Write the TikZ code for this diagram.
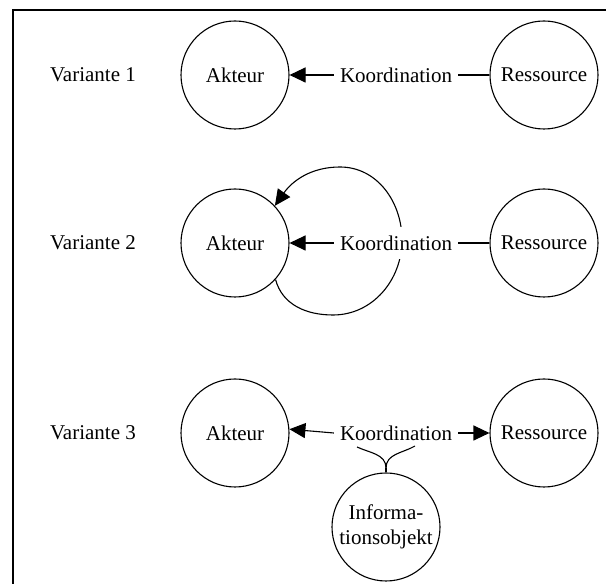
\documentclass[tikz,border=0pt]{standalone}
\usepackage{fontspec}
\setmainfont{Liberation Serif}
\usetikzlibrary{arrows.meta}
\begin{document}
\begin{tikzpicture}[x=1pt,y=1pt,
  every node/.style={font=\fontsize{21}{25}\selectfont},
  ball/.style={circle,draw,line width=1.1pt,minimum size=108pt,inner sep=0pt,align=center},
  label text/.style={inner sep=0pt},
  link/.style={line width=1.1pt},
  arr/.style={link,-{Triangle[length=16pt,width=15pt]}}]
\useasboundingbox (0,0) rectangle (606,584);
% frame
\draw[line width=2pt] (13,-5) -- (13,574) -- (611,574);

% Variante 1
\node[label text] (v1) at (93,509) {Variante 1};
\node[ball] (a1) at (235,509) {Akteur};
\node[ball] (r1) at (544,509) {Ressource};
\node[label text,inner xsep=6pt] (k1) at (396,509) {Koordination};
\draw[arr] (k1) -- (a1);
\draw[link] (r1) -- (k1);

% Variante 2: the loop runs behind the label
\node[label text] (v2) at (93,341) {Variante 2};
\node[ball] (a2) at (235,341) {Akteur};
\node[ball] (r2) at (544,341) {Ressource};
\coordinate (lb) at (333,269);
\coordinate (lr) at (402,344);
\coordinate (lt) at (340,417);
\draw[arr] (a2.-42) to[out=-75,in=180] (lb) to[out=0,in=-90] (lr)
  to[out=90,in=0] (lt) to[out=180,in=55] (a2.43);
\node[label text,inner xsep=6pt,inner ysep=9pt,fill=white] (k2) at (396,341) {Koordination};
\draw[arr] (k2) -- (a2);
\draw[link] (r2) -- (k2);

% Variante 3
\node[label text] (v3) at (93,151) {Variante 3};
\node[ball] (a3) at (235,151) {Akteur};
\node[ball] (r3) at (544,151) {Ressource};
\node[label text,inner xsep=6pt] (k3) at (396,151) {Koordination};
\node[ball] (i3) at (386,57) {Informa-\\tionsobjekt};
\draw[arr] (k3.west) -- (a3.4);
\draw[arr] (k3.east) -- (r3);
\coordinate (j3) at (386,116);
\coordinate (kl) at (357,137);
\coordinate (kr) at (415,138);
\draw[link] (i3.north) -- (j3);
\draw[link] (kl) to[out=-25,in=90] (j3);
\draw[link] (kr) to[out=-150,in=90] (j3);
\end{tikzpicture}
\end{document}
